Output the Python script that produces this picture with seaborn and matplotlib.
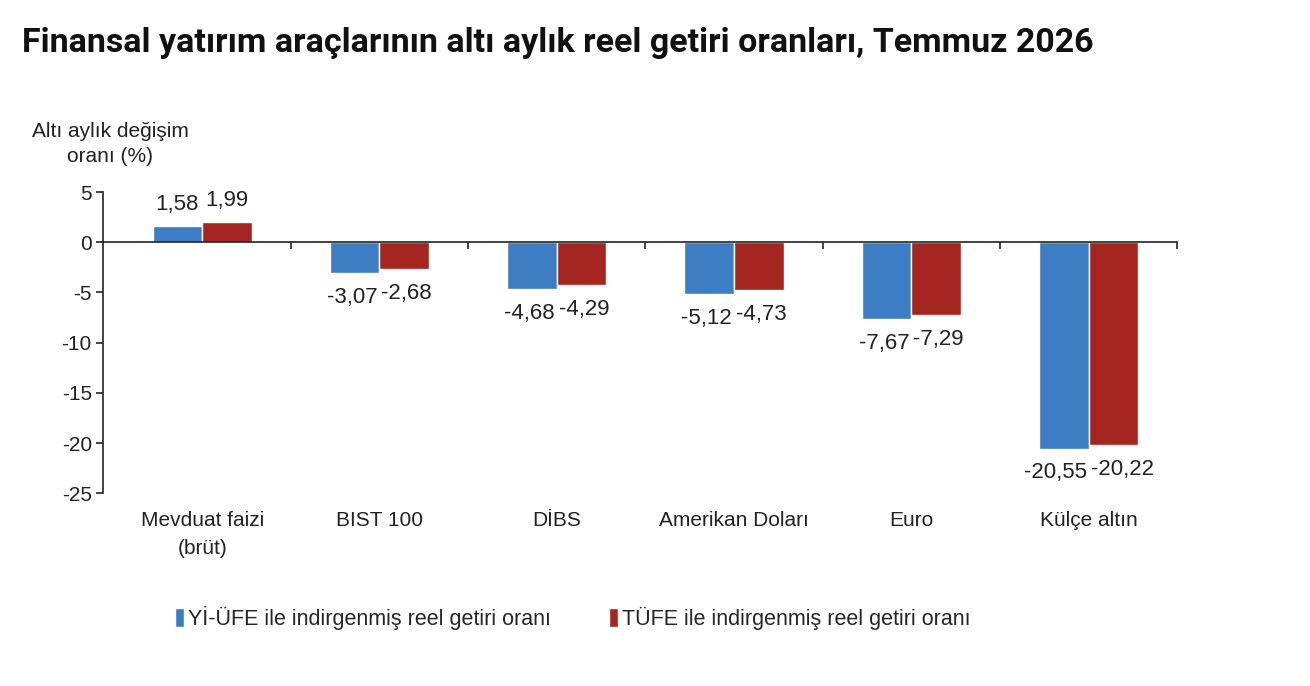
"""Finansal yatırım araçlarının altı aylık reel getiri oranları — grouped bar chart."""
import matplotlib
matplotlib.use("Agg")
import matplotlib.pyplot as plt
import matplotlib.transforms as mtransforms
import numpy as np
import pandas as pd
import seaborn as sns

categories = ["Mevduat faizi\n(brüt)", "BIST 100", "DİBS", "Amerikan Doları", "Euro", "Külçe altın"]
yi_ufe = [1.58, -3.07, -4.68, -5.12, -7.67, -20.55]
tufe = [1.99, -2.68, -4.29, -4.73, -7.29, -20.22]
series_names = ["Yİ-ÜFE ile indirgenmiş reel getiri oranı", "TÜFE ile indirgenmiş reel getiri oranı"]
y_ticks = [5, 0, -5, -10, -15, -20, -25]

colors = ["#3d7dc4", "#a52520"]
ink = "#222222"

df = pd.DataFrame({
    "kategori": categories * 2,
    "seri": [series_names[0]] * len(categories) + [series_names[1]] * len(categories),
    "deger": yi_ufe + tufe,
})

sns.set_theme(style="white")
plt.rcParams["font.family"] = ["Liberation Sans", "DejaVu Sans"]

fig = plt.figure(figsize=(13.1, 6.86), dpi=100)
ax = fig.add_axes([0.0786, 0.281, 0.82, 0.439])

sns.barplot(data=df, x="kategori", y="deger", hue="seri", order=categories,
            hue_order=series_names, palette=colors, width=0.56, gap=0,
            saturation=1, ax=ax, legend=True, errorbar=None)

ax.set_xlim(-0.56, 5.5)
ax.set_ylim(-25, 5)
ax.set_yticks(y_ticks)
ax.set_yticklabels([str(t) for t in y_ticks], fontsize=15, color=ink)
ax.tick_params(axis="y", direction="out", length=5, width=1.2, color=ink, left=True, pad=3)

# axis line at zero with ticks at category boundaries
for side in ("top", "right"):
    ax.spines[side].set_visible(False)
ax.spines["left"].set_color(ink)
ax.spines["left"].set_linewidth(1.2)
ax.spines["bottom"].set_position(("data", 0))
ax.spines["bottom"].set_color(ink)
ax.spines["bottom"].set_linewidth(1.2)
ax.set_xticks(np.arange(len(categories)) + 0.5)
ax.set_xticklabels([])
ax.tick_params(axis="x", direction="out", length=5, width=1.2, color=ink, bottom=True)
ax.set_xlabel("")
ax.set_ylabel("")

# category labels below the plot
trans = mtransforms.blended_transform_factory(ax.transData, ax.transAxes)
for i, name in enumerate(categories):
    ax.text(i, -0.06, name, transform=trans, ha="center", va="top",
            fontsize=15, color=ink, linespacing=1.55)

# value labels
label_rows = []
for container in ax.containers:
    row = []
    for bar in container:
        h = bar.get_height()
        xc = bar.get_x() + bar.get_width() / 2
        txt = f"{h:.2f}".replace(".", ",")
        if h >= 0:
            t = ax.annotate(txt, (xc, h), xytext=(0, 8), textcoords="offset points",
                            ha="center", va="bottom", fontsize=16, color=ink)
        else:
            t = ax.annotate(txt, (xc, h), xytext=(0, -10), textcoords="offset points",
                            ha="center", va="top", fontsize=16, color=ink)
        row.append(t)
    label_rows.append(row)

# push apart neighbouring labels that would collide
fig.canvas.draw()
renderer = fig.canvas.get_renderer()
for left_t, right_t in zip(label_rows[0], label_rows[1]):
    b1 = left_t.get_window_extent(renderer)
    b2 = right_t.get_window_extent(renderer)
    overlap = b1.x1 + 4 - b2.x0
    if overlap > 0:
        shift = overlap / 2 * 72 / fig.dpi
        ox, oy = left_t.xyann
        left_t.xyann = (ox - shift, oy)
        ox, oy = right_t.xyann
        right_t.xyann = (ox + shift, oy)

ax.legend(loc="center", bbox_to_anchor=(0.437, 0.099), bbox_transform=fig.transFigure,
          ncol=2, frameon=False, fontsize=15.5, handlelength=0.45, handleheight=0.95,
          handletextpad=0.15, columnspacing=2.7)

fig.text(0.084, 0.79, "Altı aylık değişim\noranı (%)", ha="center", va="center",
         fontsize=15, color=ink, linespacing=1.45, multialignment="center")

fig.text(0.017, 0.938, "Finansal yatırım araçlarının altı aylık reel getiri oranları, Temmuz 2026",
         ha="left", va="center", fontsize=24.5, fontweight="bold", color="#111111",
         family=["Roboto", "DejaVu Sans"])

fig.savefig("out.png", dpi=100, facecolor="white")
